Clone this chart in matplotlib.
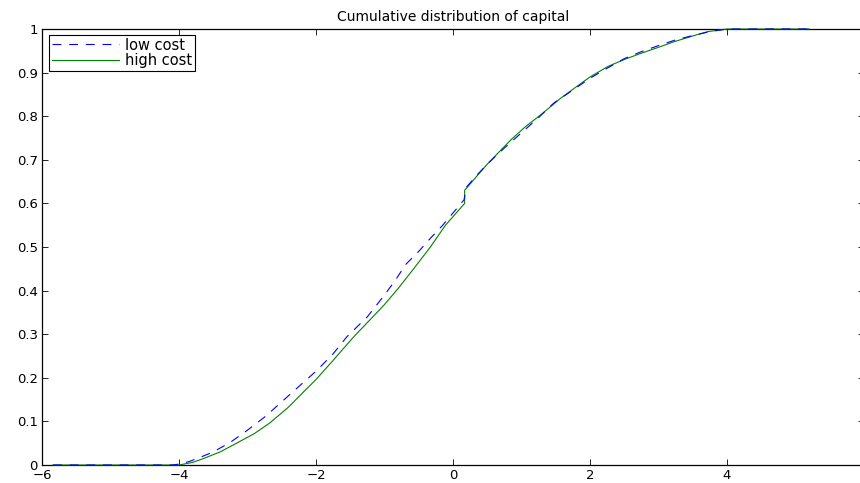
import matplotlib.pyplot as plt

plt.rcParams['font.family'] = ['DejaVu Sans']

x_low = [-5.84, -4.1, -4.0, -3.85, -3.7, -3.5, -3.25, -3.0, -2.75, -2.5,
         -2.18, -2.0, -1.75, -1.55, -1.25, -1.0, -0.85, -0.69, -0.5, -0.33,
         -0.15, 0.0, 0.16, 0.2, 0.35, 0.5, 0.75, 1.0, 1.25, 1.47, 1.75, 2.0,
         2.25, 2.5, 2.75, 3.0, 3.25, 3.5, 3.75, 4.0, 5.2]
cdf_low = [0.0, 0.0, 0.002, 0.008, 0.017, 0.03, 0.052, 0.08, 0.11, 0.145,
           0.19, 0.215, 0.255, 0.294, 0.34, 0.39, 0.422, 0.46, 0.49, 0.52,
           0.55, 0.578, 0.608, 0.638, 0.665, 0.69, 0.727, 0.762, 0.797,
           0.83, 0.86, 0.887, 0.91, 0.932, 0.948, 0.962, 0.975, 0.985,
           0.994, 1.0, 1.0]

x_high = [-5.84, -4.0, -3.8, -3.64, -3.4, -3.16, -2.9, -2.67, -2.4, -2.18,
          -2.0, -1.75, -1.45, -1.2, -1.0, -0.8, -0.57, -0.33, -0.11, 0.17,
          0.17, 0.35, 0.5, 0.84, 1.05, 1.28, 1.57, 1.77, 2.0, 2.26, 2.5,
          2.74, 3.0, 3.23, 3.5, 3.72, 4.0, 5.2]
cdf_high = [0.0, 0.0, 0.006, 0.015, 0.03, 0.05, 0.072, 0.097, 0.133, 0.168,
            0.196, 0.24, 0.294, 0.335, 0.368, 0.405, 0.451, 0.50, 0.55, 0.60,
            0.63, 0.663, 0.69, 0.745, 0.775, 0.803, 0.841, 0.864, 0.89, 0.914,
            0.93, 0.944, 0.958, 0.971, 0.984, 0.994, 1.0, 1.0]

xticks = [-6, -4, -2, 0, 2, 4, 6]
yticks = [0, 0.1, 0.2, 0.3, 0.4, 0.5, 0.6, 0.7, 0.8, 0.9, 1]

fig = plt.figure(figsize=(8.6, 4.83), dpi=100)
ax = fig.add_axes([42 / 860, 18 / 483, 822 / 860, 436 / 483])

ax.plot(x_low, cdf_low, color='blue', linestyle='--', linewidth=0.8,
        dashes=(8, 7), label='low cost', clip_on=False, zorder=4)
ax.plot(x_high, cdf_high, color=(0, 0.5, 0), linewidth=0.8,
        label='high cost', clip_on=False, zorder=3)

ax.set_xlim(-6, 6)
ax.set_ylim(0, 1)
ax.set_xticks(xticks)
ax.set_xticklabels(['\u22126', '\u22124', '\u22122', '0', '2', '4', '6'])
ax.set_yticks(yticks)
ax.set_yticklabels(['0', '0.1', '0.2', '0.3', '0.4', '0.5', '0.6', '0.7',
                    '0.8', '0.9', '1'])
ax.tick_params(direction='in', top=True, right=True, length=4, width=0.6,
               labelsize=9.5, pad=3)
for s in ax.spines.values():
    s.set_linewidth(0.9)
    s.set_zorder(2)

ax.set_title('Cumulative distribution of capital', fontsize=10, pad=6)

leg = ax.legend(loc='upper left', bbox_to_anchor=(0.009, 0.987),
                fontsize=10.5, handlelength=4.6, borderaxespad=0,
                fancybox=False, edgecolor='black', framealpha=1,
                borderpad=0.2, labelspacing=0.05, handletextpad=0.35)
leg.get_frame().set_linewidth(0.8)

fig.savefig('out.png', dpi=100)
